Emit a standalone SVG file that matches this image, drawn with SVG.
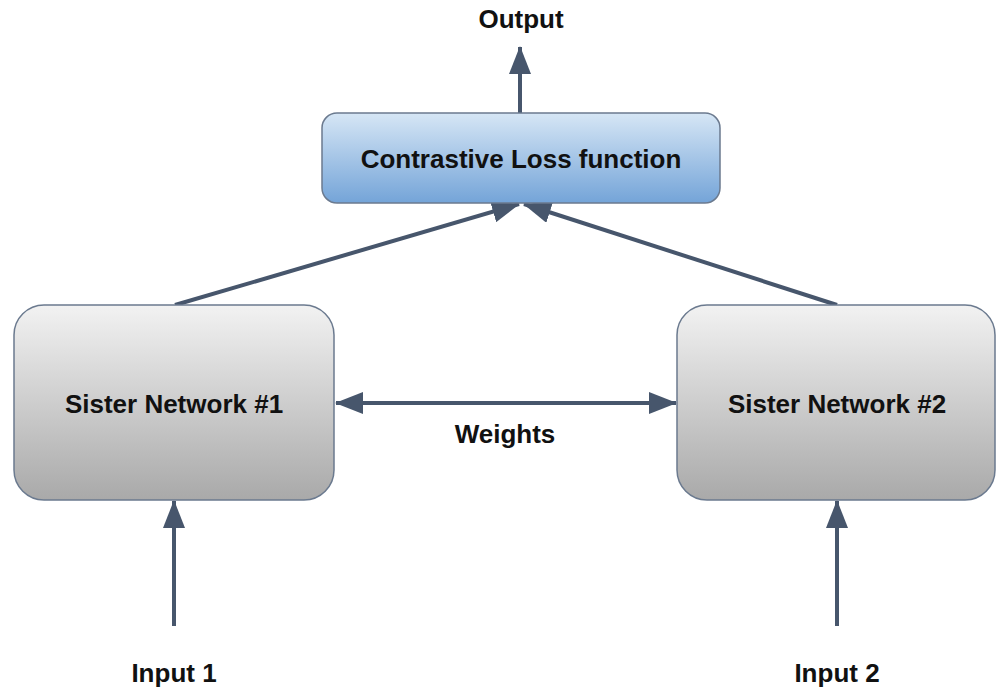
<svg xmlns="http://www.w3.org/2000/svg" width="996" height="688" viewBox="0 0 996 688">
<defs>
<linearGradient id="grey" x1="0" y1="0" x2="0" y2="1">
<stop offset="0" stop-color="#f2f2f2"/>
<stop offset="1" stop-color="#a9a9a9"/>
</linearGradient>
<linearGradient id="blue" x1="0" y1="0" x2="0" y2="1">
<stop offset="0" stop-color="#d6e6f5"/>
<stop offset="1" stop-color="#74a4d8"/>
</linearGradient>
<marker id="ah" markerWidth="10" markerHeight="8" refX="9" refY="4" orient="auto" markerUnits="userSpaceOnUse" viewBox="0 0 10 8">
<path d="M0,0 L10,4 L0,8 Z" fill="#47566c"/>
</marker>
<marker id="big" viewBox="0 0 28 22" refX="27" refY="11" markerWidth="28" markerHeight="22" orient="auto-start-reverse" markerUnits="userSpaceOnUse">
<path d="M0,0 L28,11 L0,22 Z" fill="#47566c"/>
</marker>
</defs>
<style>
text{font-family:"Liberation Sans",Arial,sans-serif;font-weight:bold;font-size:26px;fill:#111;text-anchor:middle}
.c{stroke:#47566c;stroke-width:4;fill:none}
.g{fill:url(#grey);stroke:#6b7a8f;stroke-width:1.5}
.b{fill:url(#blue);stroke:#6b7a8f;stroke-width:1.5}
</style>
<g id="connectors">
<line class="c" x1="520" y1="113" x2="520" y2="47" marker-end="url(#big)"/>
<line class="c" x1="175" y1="305" x2="519" y2="204" marker-end="url(#big)"/>
<line class="c" x1="837" y1="305" x2="524" y2="204" marker-end="url(#big)"/>
<line class="c" x1="336" y1="403" x2="676" y2="403" marker-start="url(#big)" marker-end="url(#big)"/>
<line class="c" x1="174" y1="626" x2="174" y2="501" marker-end="url(#big)"/>
<line class="c" x1="837" y1="626" x2="837" y2="501" marker-end="url(#big)"/>
</g>
<g id="loss">
<rect class="b" x="322" y="113" width="398" height="90" rx="15"/>
<text x="521" y="168">Contrastive Loss function</text>
</g>
<g id="sister1">
<rect class="g" x="14" y="305" width="320" height="195" rx="30"/>
<text x="174" y="413">Sister Network #1</text>
</g>
<g id="sister2">
<rect class="g" x="677" y="305" width="318" height="195" rx="30"/>
<text x="837" y="413">Sister Network #2</text>
</g>
<g id="output"><text x="521" y="28">Output</text></g>
<g id="weights"><text x="505" y="443">Weights</text></g>
<g id="input1"><text x="174" y="682">Input 1</text></g>
<g id="input2"><text x="837" y="682">Input 2</text></g>
</svg>
